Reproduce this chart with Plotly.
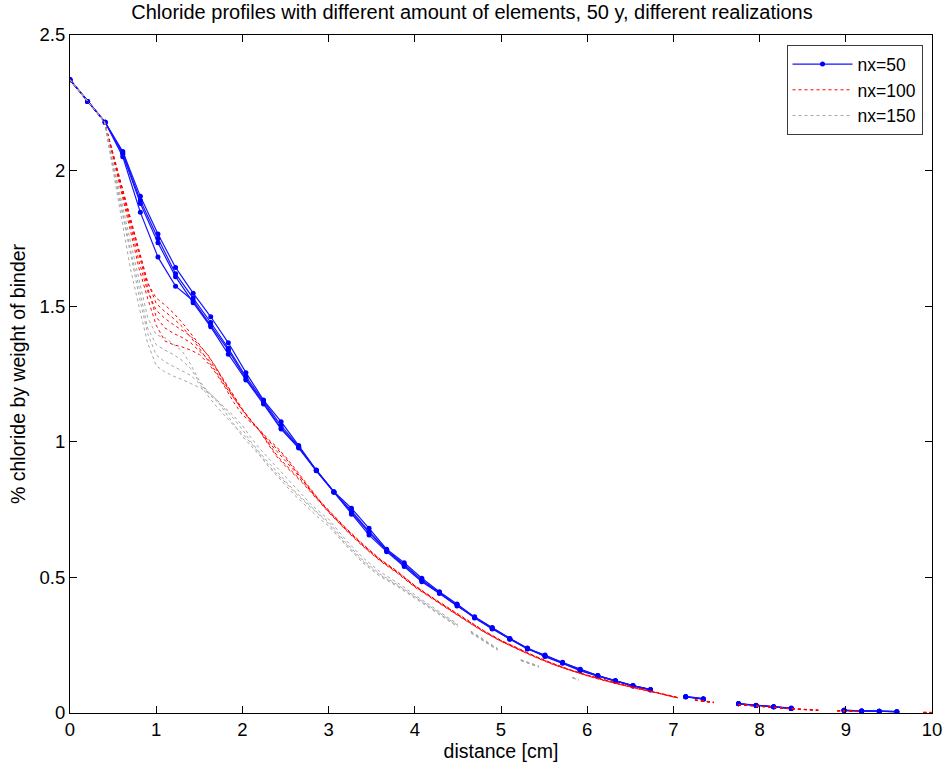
import numpy as np
import plotly.graph_objects as go

# ---------------- data ----------------
title_text = "Chloride profiles with different amount of elements, 50 y, different realizations"
x_label = "distance [cm]"
y_label = "% chloride by weight of binder"
x_ticks = [0, 1, 2, 3, 4, 5, 6, 7, 8, 9, 10]
y_ticks = [0, 0.5, 1, 1.5, 2, 2.5]
y_tick_labels = ["0", "0.5", "1", "1.5", "2", "2.5"]

# nx=50 : nodes of the mesh
blue_x = np.linspace(0, 10, 50)
blue_1 = [2.335, 2.255, 2.178, 2.070, 1.905, 1.766, 1.643, 1.548, 1.461, 1.365, 1.255, 1.154, 1.074, 0.986, 0.896, 0.816,
          0.755, 0.681, 0.604, 0.554, 0.497, 0.447, 0.402, 0.353, 0.312, 0.273, 0.238, 0.214, 0.186, 0.161, 0.138, 0.119,
          0.101, 0.086, None, 0.060, 0.052, None, 0.034, 0.028, 0.023, 0.017, None, None, 0.010, 0.0074, 0.006, 0.005, None, None]
blue_2 = [2.335, 2.255, 2.178, 2.060, 1.879, 1.734, 1.609, 1.513, 1.424, 1.323, 1.228, 1.139, 1.047, 0.977, 0.893, 0.814,
          0.733, 0.656, 0.595, 0.540, 0.484, 0.441, 0.395, 0.355, 0.315, 0.275, 0.240, 0.208, 0.183, 0.156, 0.136, 0.117,
          0.100, 0.087, None, 0.061, 0.053, None, 0.035, 0.029, 0.023, 0.018, None, None, 0.010, 0.0075, 0.006, 0.005, None, None]
blue_3 = [2.335, 2.255, 2.178, 2.051, 1.846, 1.681, 1.574, 1.520, 1.430, 1.338, 1.232, 1.145, 1.050, 0.980, 0.895, 0.815,
          0.745, 0.670, 0.600, 0.548, 0.490, 0.444, 0.398, 0.350, 0.310, 0.272, 0.236, 0.210, 0.185, 0.158, 0.137, 0.118,
          0.100, 0.085, None, 0.059, 0.051, None, 0.034, 0.028, 0.022, 0.017, None, None, 0.009, 0.007, 0.006, 0.005, None, None]
blue_4 = [2.335, 2.255, 2.178, 2.065, 1.890, 1.750, 1.620, 1.530, 1.440, 1.345, 1.240, 1.150, 1.060, 0.982, 0.894, 0.815,
          0.740, 0.665, 0.598, 0.545, 0.488, 0.443, 0.400, 0.352, 0.313, 0.274, 0.238, 0.212, 0.187, 0.160, 0.138, 0.120,
          0.101, 0.086, None, 0.060, 0.052, None, 0.034, 0.028, 0.023, 0.017, None, None, 0.010, 0.0074, 0.006, 0.005, None, None]
blue_runs = [blue_1, blue_2, blue_3, blue_4]

# nx=100 : values read at selected distances (None = gap in drawn curve)
red_x = [0, 0.2, 0.4, 0.5, 0.6, 0.7, 0.8, 0.9, 1.0, 1.1, 1.2, 1.3, 1.4, 1.5, 1.6, 1.7, 1.8, 1.9, 2.0, 2.1, 2.2,
         2.3, 2.4, 2.5, 2.6, 2.7, 2.8, 2.9, 3.0, 3.2, 3.4, 3.6, 3.8, 4.0, 4.2, 4.4, 4.6, 4.8, 5.0, 5.2, 5.4,
         5.6, 5.8, 6.0, 6.2, 6.4, 6.6, 6.8, 7.05, 7.15, 7.25, 7.47, 7.6, 7.75, 8.0, 8.2, 8.4, 8.68, 8.78, 8.9, 9.15,
         9.5, 9.9, 10.0]
red_1 = [2.335, 2.257, 2.180, 2.060, 1.940, 1.820, 1.700, 1.585, 1.530, 1.505, 1.475, 1.440, 1.400, 1.360, 1.318, 1.270,
         1.220, 1.170, 1.120, 1.077, 1.042, 1.010, 0.980, 0.945, 0.905, 0.863, 0.820, 0.782, 0.748, 0.682, 0.622, 0.567,
         0.522, 0.470, 0.427, 0.385, 0.344, 0.304, 0.268, 0.237, 0.209, 0.183, 0.160, 0.140, 0.122, 0.106, 0.091, 0.077,
         0.058, None, 0.049, 0.040, None, 0.032, 0.025, 0.020, 0.016, 0.011, None, 0.009, 0.006, None, 0.003, 0.002]
red_2 = [2.335, 2.257, 2.180, 2.055, 1.930, 1.800, 1.665, 1.555, 1.485, 1.455, 1.432, 1.410, 1.390, 1.355, 1.320, 1.272,
         1.212, 1.162, 1.115, 1.075, 1.040, 0.995, 0.950, 0.915, 0.885, 0.852, 0.815, 0.778, 0.742, 0.676, 0.616, 0.562,
         0.517, 0.466, 0.423, 0.381, 0.340, 0.300, 0.265, 0.234, 0.206, 0.180, 0.158, 0.138, 0.120, 0.104, 0.089, 0.075,
         0.056, None, 0.047, 0.038, None, 0.031, 0.024, 0.019, 0.015, 0.010, None, 0.008, 0.006, None, 0.002, 0.002]
red_3 = [2.335, 2.257, 2.180, 2.050, 1.920, 1.780, 1.640, 1.530, 1.430, 1.372, 1.358, 1.350, 1.338, 1.322, 1.290, 1.250,
         1.200, 1.145, 1.100, 1.070, 1.042, 1.005, 0.975, 0.940, 0.900, 0.860, 0.818, 0.780, 0.745, 0.680, 0.620, 0.565,
         0.520, 0.469, 0.425, 0.383, 0.342, 0.302, 0.267, 0.236, 0.208, 0.182, 0.159, 0.139, 0.121, 0.105, 0.090, 0.076,
         0.057, None, 0.048, 0.039, None, 0.031, 0.024, 0.019, 0.015, 0.010, None, 0.008, 0.006, None, 0.002, 0.002]
red_4 = [2.335, 2.257, 2.180, 2.062, 1.945, 1.825, 1.705, 1.590, 1.510, 1.480, 1.455, 1.425, 1.385, 1.345, 1.300, 1.255,
         1.205, 1.160, 1.118, 1.078, 1.040, 0.990, 0.945, 0.910, 0.880, 0.848, 0.812, 0.775, 0.740, 0.674, 0.614, 0.560,
         0.515, 0.464, 0.421, 0.380, 0.339, 0.299, 0.264, 0.233, 0.205, 0.179, 0.157, 0.137, 0.119, 0.103, 0.088, 0.075,
         0.055, None, 0.047, 0.038, None, 0.030, 0.023, 0.018, 0.014, 0.010, None, 0.008, 0.005, None, 0.002, 0.002]
red_5 = [2.335, 2.257, 2.180, 2.058, 1.935, 1.810, 1.685, 1.570, 1.460, 1.420, 1.400, 1.385, 1.365, 1.335, 1.305, 1.265,
         1.215, 1.165, 1.120, 1.080, 1.040, 1.000, 0.965, 0.930, 0.895, 0.858, 0.818, 0.780, 0.744, 0.678, 0.618, 0.564,
         0.519, 0.468, 0.424, 0.382, 0.341, 0.301, 0.266, 0.235, 0.207, 0.181, 0.158, 0.138, 0.120, 0.104, 0.090, 0.076,
         0.056, None, 0.048, 0.039, None, 0.031, 0.024, 0.019, 0.015, 0.010, None, 0.008, 0.006, None, 0.002, 0.002]
red_runs = [red_1, red_2, red_3, red_4, red_5]

# nx=150 : values read at selected distances (None = gap in drawn curve)
gray_x = [0, 0.2, 0.4, 0.5, 0.6, 0.7, 0.8, 0.9, 1.0, 1.1, 1.2, 1.3, 1.4, 1.5, 1.6, 1.7, 1.8, 1.9, 2.0, 2.1, 2.2,
          2.3, 2.4, 2.5, 2.6, 2.7, 2.8, 2.9, 3.0, 3.2, 3.4, 3.6, 3.8, 4.0, 4.2, 4.4, 4.5, 4.58, 4.65, 4.8, 4.96,
          5.1, 5.23, 5.44, 5.6, 5.83, 5.9]
gray_1 = [2.335, 2.257, 2.180, 2.030, 1.880, 1.740, 1.600, 1.460, 1.394, 1.384, 1.360, 1.335, 1.285, 1.225, 1.185, 1.155,
          1.125, 1.095, 1.060, 1.015, 0.975, 0.940, 0.905, 0.870, 0.835, 0.800, 0.768, 0.740, 0.715, 0.638, 0.572, 0.520,
          0.480, 0.436, 0.393, 0.350, 0.327, None, 0.302, 0.272, 0.238, None, 0.197, 0.173, None, 0.131, 0.123]
gray_2 = [2.335, 2.257, 2.180, 2.020, 1.860, 1.710, 1.570, 1.420, 1.358, 1.338, 1.322, 1.300, 1.270, 1.220, 1.180, 1.150,
          1.120, 1.085, 1.045, 1.000, 0.960, 0.925, 0.890, 0.855, 0.820, 0.790, 0.760, 0.730, 0.705, 0.628, 0.563, 0.512,
          0.473, 0.431, 0.388, 0.346, 0.323, None, 0.299, 0.270, 0.236, None, 0.195, 0.171, None, 0.130, 0.122]
gray_3 = [2.335, 2.257, 2.180, 2.000, 1.820, 1.640, 1.500, 1.365, 1.280, 1.258, 1.242, 1.230, 1.215, 1.200, 1.185, 1.155,
          1.110, 1.065, 1.020, 0.985, 0.950, 0.910, 0.875, 0.840, 0.805, 0.775, 0.745, 0.715, 0.690, 0.618, 0.553, 0.503,
          0.466, 0.424, 0.382, 0.340, 0.317, None, 0.295, 0.266, 0.232, None, 0.193, 0.169, None, 0.129, 0.121]
gray_4 = [2.335, 2.257, 2.180, 2.010, 1.850, 1.690, 1.540, 1.400, 1.320, 1.295, 1.278, 1.262, 1.245, 1.215, 1.170, 1.130,
          1.095, 1.060, 1.030, 0.995, 0.955, 0.915, 0.880, 0.850, 0.815, 0.785, 0.755, 0.725, 0.698, 0.623, 0.558, 0.508,
          0.470, 0.428, 0.385, 0.343, 0.320, None, 0.297, 0.268, 0.234, None, 0.194, 0.170, None, 0.130, 0.122]
gray_runs = [gray_1, gray_2, gray_3, gray_4]

series_names = ["nx=50", "nx=100", "nx=150"]

# ---------------- figure ----------------
fig = go.Figure()

for i, y in enumerate(blue_runs):
    fig.add_trace(go.Scatter(
        x=blue_x, y=y, mode="lines+markers", name=series_names[0],
        legendgroup="b", showlegend=(i == 0),
        line=dict(color="rgb(20,20,255)", width=1.2),
        marker=dict(color="rgb(0,0,255)", size=5),
        connectgaps=False))

for i, y in enumerate(red_runs):
    fig.add_trace(go.Scatter(
        x=red_x, y=y, mode="lines", name=series_names[1],
        legendgroup="r", showlegend=(i == 0),
        line=dict(color="rgb(255,0,0)", width=1, dash="dot"),
        connectgaps=False))

for i, y in enumerate(gray_runs):
    fig.add_trace(go.Scatter(
        x=gray_x, y=y, mode="lines", name=series_names[2],
        legendgroup="g", showlegend=(i == 0),
        line=dict(color="rgb(165,165,165)", width=1, dash="dot"),
        connectgaps=False))

font_family = "Liberation Sans, Arial, sans-serif"

fig.update_layout(
    width=944, height=766,
    margin=dict(l=70, r=12, t=35, b=53, autoexpand=False),
    paper_bgcolor="white", plot_bgcolor="white",
    font=dict(family=font_family, size=19, color="black"),
    title=dict(text=title_text, x=0.5, xanchor="center", y=0.993, yanchor="top",
               font=dict(size=20, family=font_family, color="black")),
    legend=dict(x=0.989, y=0.985, xanchor="right", yanchor="top",
                bgcolor="white", bordercolor="rgb(60,60,60)", borderwidth=1,
                font=dict(size=17.5, family=font_family), tracegroupgap=0,
                itemwidth=60, traceorder="normal"),
    showlegend=True,
)

fig.update_xaxes(
    range=[0, 10], tickvals=x_ticks, ticktext=[str(t) for t in x_ticks],
    ticks="inside", ticklen=7, tickcolor="black", tickwidth=1,
    showline=True, linecolor="black", linewidth=1, mirror="ticks",
    showgrid=False, zeroline=False, automargin=False,
    title=dict(text=x_label, font=dict(size=19.5), standoff=2),
    tickfont=dict(size=18.5),
)
fig.update_yaxes(
    range=[0, 2.5], tickvals=y_ticks, ticktext=y_tick_labels,
    ticks="inside", ticklen=7, tickcolor="black", tickwidth=1,
    showline=True, linecolor="black", linewidth=1, mirror="ticks",
    showgrid=False, zeroline=False, automargin=False,
    title=dict(text=y_label, font=dict(size=19.5), standoff=8),
    tickfont=dict(size=18.5),
)

fig.write_html("out.html", config={"displayModeBar": False})

# remove the default page margin so the figure sits at the window origin
with open("out.html", "r", encoding="utf-8") as f:
    html = f.read()
html = html.replace("<head>", "<head><style>html,body{margin:0;padding:0;}</style>", 1)
with open("out.html", "w", encoding="utf-8") as f:
    f.write(html)
